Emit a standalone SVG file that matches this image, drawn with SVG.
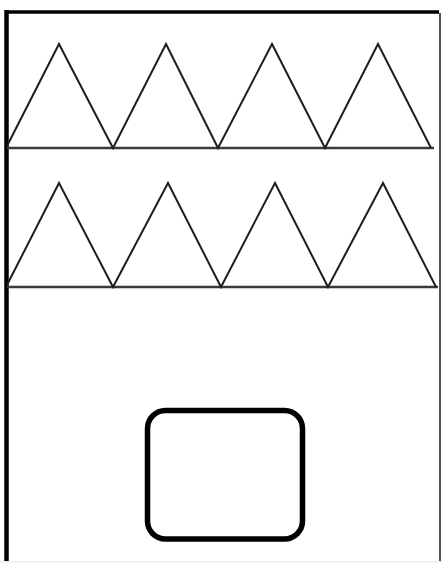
<svg xmlns="http://www.w3.org/2000/svg" width="442" height="563" viewBox="0 0 442 563">
<style>
.zig{fill:none;stroke:#1e1e1e;stroke-width:2;stroke-linejoin:miter}
.base{stroke:#3a3a3a;stroke-width:2.5}
.frame{stroke:#000;fill:none}
</style>
<rect width="442" height="563" fill="#fff"/>
<g id="frame">
<line class="frame" x1="6.5" y1="10" x2="6.5" y2="563" stroke-width="4.5"/>
<line class="frame" x1="5" y1="12" x2="439" y2="12" stroke-width="3.5"/>
<line x1="440" y1="13" x2="440" y2="563" stroke="#555" stroke-width="2"/>
<line x1="0" y1="562" x2="442" y2="562" stroke="#f2f2f2" stroke-width="2"/>
</g>
<g id="row1">
<line class="base" x1="7" y1="148" x2="434" y2="148"/>
<polyline class="zig" points="7,146 59,44 113,148 166,44 218,148 272,44 325,148 378,44 431,148"/>
</g>
<g id="row2">
<line class="base" x1="7" y1="287" x2="438" y2="287"/>
<polyline class="zig" points="7,285 59,183 113,287 168,183 221,287 275,183 328,287 383,183 436,287"/>
</g>
<g id="box">
<rect x="147.5" y="410.5" width="155" height="128.5" rx="18" ry="18" fill="#fff" stroke="#000" stroke-width="5.5"/>
</g>
</svg>
